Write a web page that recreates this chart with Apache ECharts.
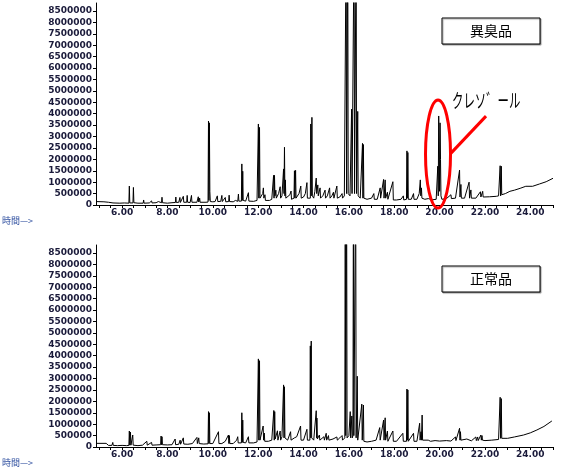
<!DOCTYPE html>
<html>
<head>
<meta charset="utf-8">
<script src="https://cdn.jsdelivr.net/npm/echarts@6/dist/echarts.min.js"></script>
<style>
html,body{margin:0;padding:0;background:#fff;}
#c{width:567px;height:469px;}
</style>
</head>
<body>
<div id="c"></div>
<script>
// ---- data ----
const xLabelValues = [6, 8, 10, 12, 14, 16, 18, 20, 22, 24];
const xTickValues = [5, 5.5, 6, 6.5, 7, 7.5, 8, 8.5, 9, 9.5, 10, 10.5, 11, 11.5, 12, 12.5, 13, 13.5, 14, 14.5, 15, 15.5, 16, 16.5, 17, 17.5, 18, 18.5, 19, 19.5, 20, 20.5, 21, 21.5, 22, 22.5, 23, 23.5, 24, 24.5, 25];
const yTickValues = [0, 500000, 1000000, 1500000, 2000000, 2500000, 3000000, 3500000, 4000000, 4500000, 5000000, 5500000, 6000000, 6500000, 7000000, 7500000, 8000000, 8500000];
const panelTitles = ['異臭品', '正常品'];
const calloutLabel = 'クレソ゛ール';
const timeAxisName = '時間—>';
const calloutAt = [19.93, 2230000];

// 異臭品 (abnormal odour sample) – [retention time (min), abundance]
const abnormalTrace = [
[4.85,150000],[5.2,140000],[5.4,120000],[5.6,90000],[5.9,80000],[6.1,90000],[6.3,80000],
[6.32,830000],[6.34,90000],[6.48,90000],[6.5,770000],[6.52,100000],[6.7,80000],
[6.93,80000],[6.95,220000],[6.97,80000],[7.2,90000],[7.3,180000],[7.32,90000],
[7.5,100000],[7.6,150000],[7.62,100000],[7.74,100000],[7.76,340000],[7.78,100000],
[8.0,80000],[8.2,100000],[8.35,110000],[8.37,350000],[8.39,110000],[8.5,120000],[8.55,330000],[8.57,110000],
[8.65,120000],[8.7,380000],[8.72,120000],[8.85,120000],[8.87,420000],[8.89,120000],
[9.0,110000],[9.06,420000],[9.08,120000],[9.3,120000],[9.36,360000],[9.38,130000],[9.42,300000],[9.44,120000],
[9.7,120000],[9.79,130000],[9.81,3680000],[9.83,200000],[9.85,3600000],[9.87,600000],[9.89,150000],
[10.0,140000],[10.1,150000],[10.2,400000],[10.22,150000],[10.35,160000],[10.4,420000],[10.42,150000],
[10.5,140000],[10.55,330000],[10.57,140000],[10.7,150000],[10.72,430000],[10.74,150000],
[10.9,140000],[11.0,200000],[11.1,160000],[11.13,480000],[11.15,170000],[11.26,170000],
[11.28,1800000],[11.3,200000],[11.32,1480000],[11.34,200000],[11.45,170000],[11.57,540000],[11.59,170000],
[11.8,160000],[11.95,200000],[12.01,3550000],[12.03,300000],[12.06,3400000],[12.08,300000],
[12.15,250000],[12.2,500000],[12.23,750000],[12.25,300000],[12.3,450000],[12.32,200000],
[12.5,200000],[12.6,250000],[12.68,1300000],[12.7,300000],[12.72,1300000],[12.74,400000],
[12.78,650000],[12.8,300000],[12.9,500000],[12.97,800000],[12.99,300000],
[13.05,400000],[13.12,1580000],[13.14,500000],[13.16,2530000],[13.18,400000],[13.2,1100000],[13.22,300000],
[13.3,250000],[13.4,450000],[13.45,610000],[13.47,250000],[13.58,300000],
[13.6,1500000],[13.62,300000],[13.65,1520000],[13.67,300000],[13.75,350000],[13.8,500000],[13.88,830000],[13.9,300000],
[14.0,350000],[14.08,500000],[14.15,980000],[14.17,300000],[14.3,300000],
[14.32,3550000],[14.34,400000],[14.37,3840000],[14.39,400000],[14.45,300000],[14.5,600000],
[14.56,1180000],[14.58,500000],[14.63,880000],[14.65,400000],[14.73,750000],[14.75,300000],
[14.85,400000],[14.95,650000],[14.97,300000],[15.05,400000],[15.15,750000],[15.17,300000],
[15.25,400000],[15.32,560000],[15.34,300000],[15.47,830000],[15.49,300000],
[15.6,350000],[15.7,500000],[15.72,300000],[15.8,400000],[15.86,400000],
[15.88,12000000],[15.9,500000],[15.95,12000000],[15.97,500000],[16.05,400000],[16.12,4200000],[16.14,500000],
[16.21,500000],[16.23,12000000],[16.25,500000],[16.32,12000000],[16.34,500000],[16.39,4100000],[16.41,400000],
[16.5,300000],[16.58,300000],[16.6,2700000],[16.62,300000],[16.64,2650000],[16.66,300000],
[16.8,250000],[17.0,300000],[17.1,500000],[17.12,250000],[17.25,250000],[17.38,750000],[17.4,300000],
[17.53,1120000],[17.55,300000],[17.6,1100000],[17.62,300000],[17.7,560000],[17.72,250000],
[17.94,1020000],[17.96,220000],[18.1,220000],[18.3,250000],[18.4,400000],[18.42,220000],
[18.54,250000],[18.56,2370000],[18.58,300000],[18.6,2300000],[18.62,250000],
[18.75,250000],[18.85,500000],[18.87,250000],[19.0,250000],[19.1,500000],[19.15,1100000],[19.17,400000],
[19.2,750000],[19.22,300000],[19.35,250000],[19.5,280000],[19.7,230000],[19.85,250000],
[19.92,1700000],[19.94,400000],[19.96,3900000],[19.98,2800000],[20.0,600000],[20.02,3600000],[20.04,2000000],
[20.06,400000],[20.1,250000],[20.3,280000],[20.5,450000],[20.52,280000],[20.7,300000],
[20.88,1530000],[20.9,350000],[20.94,900000],[20.96,300000],[21.1,300000],
[21.3,1000000],[21.32,300000],[21.38,660000],[21.4,300000],[21.6,300000],
[21.8,580000],[21.82,350000],[21.9,600000],[21.92,350000],[22.2,360000],[22.5,380000],[22.6,400000],
[22.67,1720000],[22.69,400000],[22.72,1700000],[22.74,450000],[22.9,500000],[23.1,600000],[23.3,650000],
[23.55,730000],[23.8,820000],[24.1,820000],[24.4,920000],[24.7,1020000],[25.0,1170000]
];

// 正常品 (normal sample)
const normalTrace = [
[4.85,160000],[5.3,160000],[5.4,70000],[5.55,70000],[5.59,200000],[5.61,70000],[5.8,60000],[6.0,70000],[6.2,60000],
[6.3,70000],[6.32,700000],[6.34,80000],[6.37,650000],[6.39,80000],[6.47,525000],[6.49,80000],[6.7,60000],[6.9,80000],
[7.09,250000],[7.11,80000],[7.3,200000],[7.32,80000],[7.5,90000],[7.7,100000],[7.72,480000],[7.74,100000],[7.76,450000],[7.78,100000],
[8.0,90000],[8.2,100000],[8.34,350000],[8.36,100000],[8.5,120000],[8.56,300000],[8.58,120000],[8.7,400000],[8.72,130000],
[8.9,120000],[9.1,150000],[9.3,420000],[9.32,150000],[9.38,400000],[9.4,150000],[9.6,130000],
[9.79,140000],[9.81,1550000],[9.83,150000],[9.85,1500000],[9.87,150000],[10.0,150000],[10.25,670000],[10.27,150000],
[10.4,150000],[10.55,250000],[10.69,525000],[10.71,150000],[10.73,500000],[10.75,150000],
[10.9,150000],[11.05,300000],[11.1,450000],[11.12,180000],[11.26,180000],
[11.28,1500000],[11.3,200000],[11.32,1180000],[11.34,200000],[11.45,180000],[11.57,450000],[11.59,180000],
[11.8,180000],[11.95,220000],[12.01,3860000],[12.03,300000],[12.06,3780000],[12.08,300000],
[12.15,300000],[12.22,920000],[12.24,300000],[12.27,610000],[12.29,250000],
[12.45,250000],[12.6,300000],[12.69,1600000],[12.71,300000],[12.73,1550000],[12.75,350000],
[12.85,710000],[12.87,300000],[12.97,700000],[12.99,300000],
[13.05,450000],[13.12,2720000],[13.14,400000],[13.16,2640000],[13.18,400000],
[13.3,300000],[13.43,670000],[13.45,300000],[13.6,400000],[13.7,450000],[13.87,920000],[13.89,300000],
[14.0,300000],[14.15,775000],[14.17,300000],[14.28,300000],
[14.3,4430000],[14.32,400000],[14.34,4640000],[14.36,400000],[14.45,300000],
[14.56,1590000],[14.58,400000],[14.59,1270000],[14.61,350000],[14.7,525000],[14.72,300000],
[14.9,450000],[14.92,300000],[15.0,600000],[15.02,300000],[15.1,500000],[15.12,300000],
[15.3,350000],[15.47,440000],[15.49,300000],[15.6,400000],[15.7,500000],[15.72,300000],[15.82,400000],
[15.84,12000000],[15.86,500000],[15.9,12000000],[15.92,400000],
[16.0,500000],[16.06,1550000],[16.08,400000],[16.13,1360000],[16.15,400000],
[16.18,500000],[16.2,12000000],[16.22,500000],[16.3,12000000],[16.32,400000],[16.37,3100000],[16.39,300000],
[16.45,300000],[16.57,1880000],[16.59,300000],[16.64,1840000],[16.66,250000],
[16.8,220000],[17.0,250000],[17.2,300000],[17.36,850000],[17.38,300000],
[17.53,1180000],[17.55,300000],[17.6,1280000],[17.62,300000],[17.7,700000],[17.72,250000],
[17.94,700000],[17.96,250000],[18.1,250000],[18.38,600000],[18.4,250000],
[18.54,250000],[18.56,2540000],[18.58,300000],[18.6,2500000],[18.62,250000],
[18.85,600000],[18.87,250000],[19.0,250000],[19.12,1040000],[19.14,300000],[19.18,670000],[19.2,300000],
[19.23,1400000],[19.25,300000],[19.3,300000],[19.32,250000],[19.5,300000],[19.6,250000],[19.8,280000],
[20.0,260000],[20.3,280000],[20.5,260000],[20.7,440000],[20.72,280000],
[20.88,820000],[20.9,300000],[20.92,670000],[20.94,300000],[21.2,350000],[21.22,280000],[21.4,270000],
[21.6,440000],[21.62,280000],[21.68,440000],[21.7,280000],[21.82,525000],[21.84,300000],[21.87,500000],[21.89,300000],
[22.0,280000],[22.3,300000],[22.6,330000],[22.67,2180000],[22.69,380000],[22.72,2120000],[22.74,380000],
[23.0,380000],[23.3,440000],[23.7,525000],[24.0,620000],[24.29,745000],[24.6,900000],[24.95,1140000]
];

// ---- chart ----
const labelColor = '#1a1a3a';
const labelFont = {fontFamily: 'DejaVu Sans', fontWeight: 'bold', fontSize: 9, color: labelColor};

function xAxisFor(gi) {
  return {
    type: 'value', gridIndex: gi, min: 4.85, max: 25.0,
    axisLine: {show: true, onZero: false, lineStyle: {color: '#000', width: 1}},
    axisTick: {show: true, length: 3, customValues: xTickValues, lineStyle: {color: '#000'}},
    axisLabel: Object.assign({margin: 3, customValues: xLabelValues, formatter: v => v.toFixed(2)}, labelFont),
    splitLine: {show: false}
  };
}
function yAxisFor(gi) {
  return {
    type: 'value', gridIndex: gi, min: 0, max: 8850000,
    axisLine: {show: true, lineStyle: {color: '#000', width: 1}},
    axisTick: {show: true, length: 3, customValues: yTickValues, lineStyle: {color: '#000'}},
    axisLabel: Object.assign({margin: 4, customValues: yTickValues, formatter: v => String(v)}, labelFont),
    splitLine: {show: false}
  };
}

function boxGraphics(title, top) {
  return [
    {type: 'rect', shape: {x: 442, y: top, width: 98, height: 26},
     style: {fill: '#fff', stroke: '#000', lineWidth: 1, shadowColor: 'rgba(0,0,0,0.35)', shadowOffsetX: 1, shadowOffsetY: 1, shadowBlur: 1}, z: 10},
    {type: 'text', x: 491, y: top + 13, z: 11,
     style: {text: title, fontSize: 14, fontFamily: 'Noto Sans CJK JP', fill: '#000', align: 'center', verticalAlign: 'middle'}}
  ];
}

const chart = echarts.init(document.getElementById('c'), null, {renderer: 'canvas'});
const option = {
  animation: false,
  backgroundColor: '#fff',
  grid: [
    {left: 96, top: 3, width: 457, height: 202},
    {left: 96, top: 245, width: 457, height: 202}
  ],
  xAxis: [xAxisFor(0), xAxisFor(1)],
  yAxis: [yAxisFor(0), yAxisFor(1)],
  series: [
    {type: 'line', xAxisIndex: 0, yAxisIndex: 0, data: abnormalTrace, showSymbol: false, clip: true,
     lineStyle: {color: '#000', width: 1}, itemStyle: {color: '#000'}},
    {type: 'line', xAxisIndex: 1, yAxisIndex: 1, data: normalTrace, showSymbol: false, clip: true,
     lineStyle: {color: '#000', width: 1}, itemStyle: {color: '#000'}}
  ],
  graphic: [].concat(
    boxGraphics(panelTitles[0], 18),
    boxGraphics(panelTitles[1], 266),
    [
      {type: 'text', x: 2, y: 216, style: {text: timeAxisName, fontSize: 9, fontFamily: 'Noto Sans CJK JP', fill: '#3050a0'}},
      {type: 'text', x: 2, y: 458, style: {text: timeAxisName, fontSize: 9, fontFamily: 'Noto Sans CJK JP', fill: '#3050a0'}}
    ]
  )
};
chart.setOption(option);

const c = chart.convertToPixel({gridIndex: 0}, calloutAt);
option.graphic = option.graphic.concat([
  {type: 'ellipse', shape: {cx: c[0], cy: c[1], rx: 12.5, ry: 54}, z: 20,
   style: {fill: 'none', stroke: '#ff0000', lineWidth: 3}},
  {type: 'line', shape: {x1: c[0] + 13, y1: c[1] - 1, x2: c[0] + 48, y2: c[1] - 38}, z: 20,
   style: {stroke: '#ff0000', lineWidth: 3}},
  {type: 'text', x: c[0] + 14, y: c[1] - 53, scaleX: 0.6, z: 20,
   style: {text: calloutLabel, fontSize: 19, fontFamily: 'Noto Sans CJK JP', fill: '#000', verticalAlign: 'middle'}}
]);
chart.setOption({graphic: option.graphic});
</script>
</body>
</html>
